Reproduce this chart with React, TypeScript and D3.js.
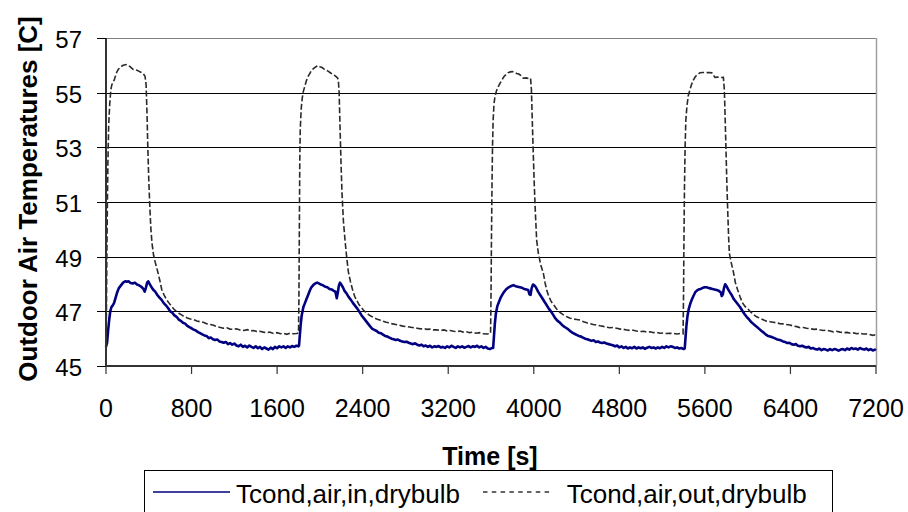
import React from "react";
import * as d3 from "d3";

type P = [number, number];

// Tcond,air,in,drybulb  [time s, temp C]
const inCycle1: P[] = [[0,45.7],[10,45.85],[20,46.3],[30,46.7],[40,47.0],[50,47.15],[60,47.2],[75,47.3],[90,47.5],[105,47.7],[120,47.85],[140,47.95],[160,48.05],[180,48.1],[195,48.08],[210,48.1],[230,48.04],[250,48.02],[270,48.05],[290,47.98],[310,47.95],[330,47.9],[350,47.82],[362,47.72],[372,47.85],[385,48.05],[395,48.1],[405,48.02],[420,47.92],[440,47.8],[460,47.72],[480,47.6],[500,47.5],[520,47.42],[540,47.3],[560,47.22],[580,47.12],[600,47.0],[620,46.95],[640,46.85],[660,46.8],[680,46.7],[700,46.65],[720,46.58],[740,46.55],[760,46.47],[780,46.42],[800,46.38],[820,46.33],[840,46.3],[860,46.24],[880,46.2],[900,46.16],[920,46.12],[940,46.1],[960,46.02],[980,46.04],[1000,45.98],[1020,45.95],[1040,45.97],[1060,45.9],[1080,45.88],[1100,45.85],[1120,45.88],[1140,45.8],[1160,45.84],[1180,45.78],[1200,45.82],[1220,45.75],[1240,45.72],[1260,45.78],[1280,45.7],[1300,45.74],[1320,45.68],[1340,45.75],[1360,45.7],[1380,45.66],[1400,45.72],[1420,45.65],[1440,45.7],[1460,45.62],[1480,45.68],[1500,45.64],[1520,45.6],[1540,45.67],[1560,45.62],[1580,45.7],[1600,45.65],[1620,45.72],[1640,45.68],[1660,45.72],[1680,45.66],[1700,45.72],[1720,45.68],[1740,45.73],[1760,45.7],[1780,45.74],[1800,45.72]];
const inCycle2: P[] = [[1805,45.75],[1812,46.1],[1820,46.5],[1830,46.85],[1845,47.15],[1860,47.3],[1875,47.45],[1890,47.6],[1905,47.75],[1920,47.88],[1940,47.97],[1960,48.03],[1975,48.05],[1990,48.02],[2010,47.98],[2030,47.95],[2050,47.9],[2070,47.88],[2090,47.82],[2110,47.8],[2130,47.75],[2145,47.72],[2158,47.48],[2168,47.7],[2178,47.95],[2188,48.05],[2200,47.98],[2215,47.88],[2230,47.75],[2250,47.65],[2270,47.52],[2290,47.42],[2310,47.3],[2330,47.2],[2350,47.1],[2370,46.98],[2390,46.85],[2410,46.75],[2430,46.65],[2450,46.55],[2470,46.45],[2490,46.36],[2510,46.32],[2530,46.28],[2550,46.22],[2570,46.2],[2590,46.15],[2610,46.1],[2630,46.08],[2650,46.04],[2670,46.0],[2690,45.98],[2710,45.95],[2730,45.97],[2750,45.92],[2770,45.9],[2790,45.88],[2810,45.89],[2830,45.85],[2850,45.82],[2870,45.8],[2890,45.83],[2910,45.78],[2930,45.75],[2950,45.78],[2970,45.72],[2990,45.75],[3010,45.7],[3030,45.74],[3050,45.68],[3070,45.72],[3090,45.7],[3110,45.73],[3130,45.68],[3150,45.7],[3170,45.66],[3190,45.72],[3210,45.68],[3230,45.74],[3250,45.7],[3270,45.66],[3290,45.72],[3310,45.68],[3330,45.72],[3350,45.67],[3370,45.7],[3390,45.73],[3410,45.68],[3430,45.72],[3450,45.7],[3470,45.74],[3490,45.68],[3510,45.72],[3530,45.66],[3550,45.7],[3570,45.64],[3590,45.62],[3610,45.66]];
const inCycle3: P[] = [[3620,45.66],[3628,46.1],[3636,46.55],[3645,46.9],[3660,47.2],[3675,47.35],[3690,47.5],[3705,47.6],[3720,47.7],[3740,47.8],[3762,47.87],[3785,47.92],[3809,47.96],[3830,47.92],[3850,47.9],[3870,47.88],[3890,47.86],[3910,47.82],[3930,47.8],[3948,47.78],[3960,47.62],[3970,47.6],[3980,47.85],[3993,47.98],[4005,47.95],[4020,47.88],[4040,47.72],[4060,47.6],[4080,47.48],[4100,47.35],[4120,47.23],[4140,47.1],[4160,47.0],[4180,46.88],[4200,46.75],[4220,46.66],[4240,46.6],[4260,46.52],[4280,46.45],[4300,46.4],[4320,46.35],[4340,46.28],[4360,46.22],[4380,46.18],[4400,46.14],[4420,46.1],[4440,46.08],[4460,46.04],[4480,46.0],[4500,45.98],[4520,45.95],[4540,45.92],[4560,45.94],[4580,45.88],[4600,45.9],[4620,45.86],[4640,45.84],[4660,45.86],[4680,45.82],[4700,45.8],[4720,45.78],[4740,45.76],[4760,45.72],[4780,45.75],[4800,45.68],[4820,45.72],[4840,45.66],[4860,45.7],[4880,45.64],[4900,45.68],[4920,45.65],[4940,45.7],[4960,45.64],[4980,45.68],[5000,45.65],[5020,45.68],[5040,45.63],[5060,45.67],[5080,45.7],[5100,45.66],[5120,45.68],[5140,45.64],[5160,45.68],[5180,45.65],[5200,45.7],[5220,45.66],[5240,45.72],[5260,45.68],[5280,45.72],[5300,45.7],[5320,45.66],[5340,45.68],[5360,45.64],[5380,45.66],[5400,45.62],[5410,45.64]];
const inCycle4: P[] = [[5412,45.66],[5420,46.1],[5428,46.5],[5438,46.85],[5450,47.1],[5465,47.3],[5480,47.45],[5495,47.58],[5510,47.7],[5525,47.76],[5540,47.8],[5560,47.82],[5580,47.86],[5600,47.88],[5614,47.88],[5630,47.86],[5650,47.84],[5670,47.82],[5690,47.8],[5710,47.78],[5730,47.75],[5748,47.7],[5758,47.56],[5768,47.62],[5778,47.85],[5790,47.99],[5802,47.92],[5815,47.82],[5830,47.72],[5850,47.6],[5870,47.45],[5890,47.35],[5910,47.25],[5930,47.15],[5950,47.02],[5970,46.9],[5990,46.8],[6010,46.72],[6030,46.62],[6050,46.55],[6070,46.48],[6090,46.42],[6110,46.35],[6130,46.28],[6150,46.22],[6170,46.15],[6190,46.1],[6210,46.08],[6230,46.05],[6250,46.02],[6270,45.98],[6290,45.96],[6310,45.94],[6330,45.9],[6350,45.88],[6370,45.84],[6390,45.85],[6410,45.8],[6430,45.78],[6450,45.8],[6470,45.74],[6490,45.72],[6510,45.74],[6530,45.7],[6550,45.68],[6570,45.7],[6590,45.64],[6610,45.66],[6630,45.62],[6650,45.6],[6670,45.64],[6690,45.58],[6710,45.62],[6730,45.6],[6750,45.57],[6770,45.62],[6790,45.58],[6810,45.62],[6830,45.6],[6850,45.56],[6870,45.6],[6890,45.62],[6910,45.58],[6930,45.64],[6950,45.6],[6970,45.66],[6990,45.62],[7010,45.64],[7030,45.6],[7050,45.66],[7070,45.62],[7090,45.6],[7110,45.64],[7130,45.58],[7150,45.62],[7170,45.57],[7190,45.6],[7200,45.58]];

// Tcond,air,out,drybulb  [time s, temp C]
const outCycle1: P[] = [[0,45.8],[4,47.0],[8,49.0],[13,51.0],[18,52.5],[25,53.8],[35,54.6],[45,55.1],[55,55.3],[65,55.35],[80,55.5],[95,55.7],[110,55.82],[125,55.9],[140,55.95],[160,56.0],[180,56.02],[195,56.03],[210,56.0],[225,55.95],[240,55.9],[255,55.85],[270,55.84],[290,55.82],[310,55.78],[330,55.74],[350,55.68],[365,55.6],[375,55.3],[383,54.3],[391,53.0],[400,51.8],[410,50.8],[420,50.0],[430,49.5],[445,49.05],[460,48.8],[474,48.6],[490,48.35],[505,48.1],[521,47.8],[545,47.58],[567,47.42],[590,47.3],[614,47.18],[640,47.06],[661,46.99],[685,46.92],[710,46.86],[735,46.8],[760,46.76],[790,46.72],[820,46.7],[850,46.65],[879,46.62],[910,46.6],[940,46.55],[970,46.52],[1000,46.5],[1030,46.45],[1060,46.42],[1097,46.38],[1130,46.4],[1160,46.35],[1190,46.34],[1220,46.36],[1253,46.32],[1290,46.3],[1320,46.33],[1350,46.28],[1380,46.3],[1410,46.26],[1440,46.27],[1470,46.24],[1500,46.22],[1530,46.24],[1565,46.19],[1600,46.22],[1630,46.18],[1660,46.2],[1690,46.16],[1720,46.2],[1750,46.18],[1783,46.19],[1800,46.21]];
const outCycle2: P[] = [[1804,47.5],[1808,50.0],[1812,52.5],[1816,53.6],[1825,54.4],[1835,54.8],[1845,55.04],[1860,55.25],[1875,55.45],[1890,55.6],[1905,55.7],[1920,55.8],[1940,55.88],[1960,55.94],[1980,55.99],[2000,55.95],[2020,55.92],[2040,55.86],[2060,55.82],[2080,55.78],[2100,55.72],[2120,55.68],[2140,55.62],[2160,55.56],[2172,55.49],[2180,55.0],[2188,53.8],[2197,52.5],[2207,51.3],[2220,50.3],[2235,49.6],[2250,49.0],[2266,48.45],[2285,48.1],[2305,47.8],[2325,47.55],[2345,47.4],[2365,47.25],[2385,47.15],[2406,47.05],[2430,46.96],[2455,46.88],[2480,46.82],[2500,46.78],[2530,46.72],[2560,46.68],[2590,46.64],[2620,46.6],[2650,46.58],[2680,46.54],[2710,46.52],[2740,46.5],[2775,46.46],[2812,46.44],[2850,46.42],[2880,46.4],[2910,46.38],[2940,46.36],[2970,46.37],[3000,46.34],[3030,46.35],[3060,46.32],[3092,46.32],[3130,46.3],[3160,46.32],[3190,46.28],[3220,46.3],[3250,46.27],[3280,46.26],[3310,46.28],[3340,46.24],[3370,46.25],[3400,46.22],[3430,46.24],[3460,46.2],[3490,46.22],[3520,46.18],[3560,46.17],[3585,46.18],[3596,46.2]];
const outCycle3: P[] = [[3600,47.5],[3604,49.5],[3609,51.5],[3614,53.0],[3620,54.0],[3628,54.6],[3637,54.85],[3650,55.05],[3665,55.2],[3684,55.34],[3700,55.45],[3720,55.58],[3740,55.66],[3760,55.73],[3780,55.76],[3800,55.77],[3820,55.74],[3840,55.7],[3860,55.68],[3880,55.62],[3902,55.53],[3930,55.54],[3950,55.52],[3970,55.53],[3978,55.1],[3986,54.0],[3995,52.8],[4005,51.6],[4015,50.6],[4027,49.6],[4043,49.12],[4065,48.7],[4090,48.39],[4105,48.05],[4121,47.78],[4140,47.55],[4160,47.38],[4180,47.26],[4199,47.17],[4220,47.05],[4245,46.96],[4277,46.87],[4310,46.8],[4340,46.75],[4370,46.72],[4400,46.7],[4433,46.68],[4465,46.62],[4495,46.58],[4525,46.55],[4555,46.52],[4588,46.5],[4620,46.47],[4650,46.45],[4680,46.42],[4710,46.4],[4740,46.41],[4775,46.38],[4810,46.35],[4840,46.34],[4870,46.32],[4900,46.3],[4930,46.31],[4960,46.28],[4993,46.26],[5030,46.27],[5060,46.24],[5090,46.25],[5120,46.22],[5150,46.23],[5180,46.2],[5210,46.21],[5240,46.19],[5270,46.2],[5305,46.19],[5340,46.17],[5370,46.19],[5396,46.18]];
const outCycle4: P[] = [[5400,47.5],[5404,49.5],[5409,51.5],[5415,53.0],[5422,54.0],[5432,54.5],[5445,54.9],[5460,55.1],[5475,55.3],[5492,55.46],[5510,55.58],[5530,55.66],[5554,55.73],[5580,55.74],[5610,55.73],[5640,55.74],[5664,55.73],[5680,55.64],[5695,55.56],[5720,55.57],[5745,55.55],[5773,55.56],[5782,55.1],[5790,54.0],[5798,52.8],[5806,51.6],[5815,50.5],[5822,49.7],[5829,49.12],[5845,48.8],[5866,48.45],[5885,48.05],[5905,47.8],[5928,47.54],[5950,47.32],[5975,47.18],[6000,47.1],[6022,47.0],[6050,46.9],[6084,46.8],[6120,46.74],[6150,46.68],[6178,46.64],[6210,46.62],[6240,46.6],[6270,46.58],[6300,46.55],[6330,46.54],[6360,46.52],[6396,46.5],[6430,46.46],[6460,46.44],[6490,46.4],[6520,46.41],[6552,46.38],[6590,46.36],[6620,46.34],[6650,46.35],[6680,46.32],[6710,46.3],[6740,46.31],[6770,46.28],[6801,46.25],[6830,46.27],[6864,46.24],[6900,46.22],[6930,46.23],[6960,46.2],[6990,46.21],[7020,46.18],[7050,46.2],[7080,46.17],[7113,46.17],[7140,46.15],[7170,46.12],[7185,46.14],[7200,46.09]];

const xTicks = [0, 800, 1600, 2400, 3200, 4000, 4800, 5600, 6400, 7200];
const yTicks = [45, 47, 49, 51, 53, 55, 57];
const seriesNames = ["Tcond,air,in,drybulb", "Tcond,air,out,drybulb"];

const W = 908, H = 512;
const L = 106, R = 876, T = 38, B = 366;
const FONT = "'Liberation Sans', Arial, sans-serif";

export default function App() {
  const x = d3.scaleLinear().domain([0, 7200]).range([L, R]);
  const y = d3.scaleLinear().domain([45, 57]).range([B, T]);
  const line = d3.line<P>().x(d => x(d[0])).y(d => y(d[1]));
  const inData = [...inCycle1, ...inCycle2, ...inCycle3, ...inCycle4];
  const outData = [...outCycle1, ...outCycle2, ...outCycle3, ...outCycle4];

  return (
    <svg width={W} height={H} style={{ position: "fixed", left: 0, top: 0, background: "#fff" }} fontFamily={FONT}>
      <rect x={0} y={0} width={W} height={H} fill="#fff" />
      {yTicks.filter(t => t !== 45 && t !== 57).map(t => (
        <line key={t} x1={L} x2={R} y1={Math.round(y(t)) + 0.5} y2={Math.round(y(t)) + 0.5} stroke="#000" strokeWidth={1} />
      ))}
      <line x1={L} x2={R} y1={T + 0.5} y2={T + 0.5} stroke="#808080" strokeWidth={1} />
      <line x1={R + 0.5} x2={R + 0.5} y1={T} y2={B} stroke="#a0a0a0" strokeWidth={1.5} />
      <path d={line(outData) || ""} fill="none" stroke="#2a2a2a" strokeWidth={1.6} strokeDasharray="6,2.5" />
      <path d={line(inData) || ""} fill="none" stroke="#000080" strokeWidth={2.6} strokeLinejoin="round" />
      <line x1={L} x2={L} y1={T} y2={B} stroke="#333" strokeWidth={2} />
      <line x1={L} x2={R} y1={B} y2={B} stroke="#333" strokeWidth={2} />
      {yTicks.map(t => (
        <g key={t}>
          <line x1={L - 9} x2={L} y1={Math.round(y(t)) + 0.5} y2={Math.round(y(t)) + 0.5} stroke="#000" strokeWidth={1} />
          <text x={82} y={y(t) + 1.5} dy="0.35em" textAnchor="end" fontSize={24}>{t}</text>
        </g>
      ))}
      {xTicks.map(t => (
        <g key={t}>
          <line x1={x(t)} x2={x(t)} y1={B} y2={B + 8} stroke="#333" strokeWidth={1.2} />
          <text x={x(t)} y={416.5} textAnchor="middle" fontSize={25}>{t}</text>
        </g>
      ))}
      <text x={490} y={465} textAnchor="middle" fontSize={25} fontWeight="bold">Time [s]</text>
      <text transform="translate(37,199) rotate(-90)" textAnchor="middle" fontSize={26} fontWeight="bold">Outdoor Air Temperatures [C]</text>
      <rect x={144.5} y={470.5} width={688} height={50} fill="#fff" stroke="#000" strokeWidth={1} />
      <line x1={153} x2={230} y1={492} y2={492} stroke="#000080" strokeWidth={1.5} />
      <text x={236} y={502.7} fontSize={26}>{seriesNames[0]}</text>
      <line x1={483} x2={553} y1={492} y2={492} stroke="#333" strokeWidth={1.5} strokeDasharray="4.5,4.3" />
      <text x={566.7} y={502.7} fontSize={26}>{seriesNames[1]}</text>
    </svg>
  );
}
